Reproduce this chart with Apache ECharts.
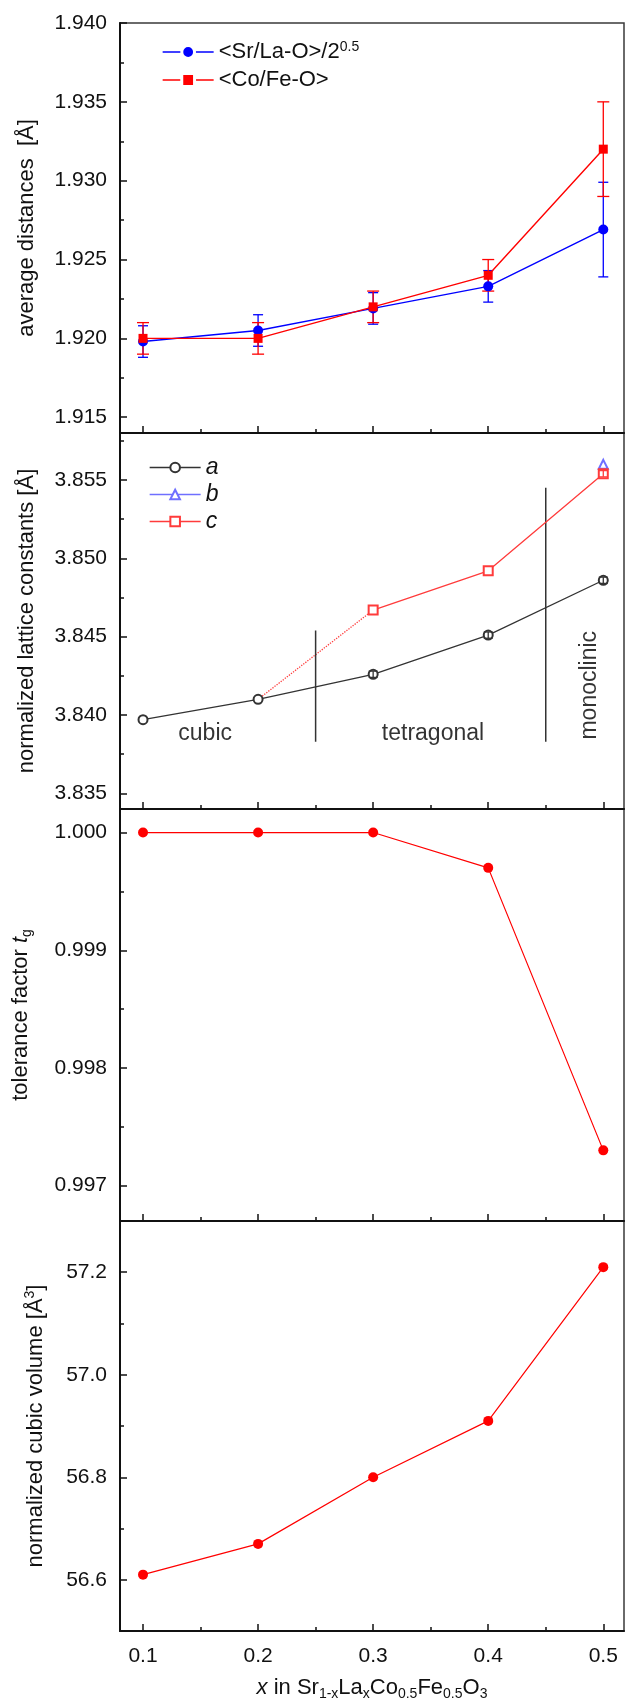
<!DOCTYPE html>
<html>
<head>
<meta charset="utf-8">
<title>Sr1-xLaxCo0.5Fe0.5O3 structure parameters</title>
<script src="https://cdn.jsdelivr.net/npm/echarts@6/dist/echarts.min.js"></script>
<style>
  html, body { margin: 0; padding: 0; background: #fff; }
  #chart { width: 625px; height: 1705px; }
</style>
</head>
<body>
<div id="chart"></div>
<script>
// La content x in Sr(1-x)La(x)Co0.5Fe0.5O3
const compositions = [0.1, 0.2, 0.3, 0.4, 0.5];

// Average distances [Å] with uncertainties
const distSrLaO    = [1.9198, 1.9205, 1.9219, 1.9233, 1.9269];
const distSrLaOErr = [0.001, 0.001, 0.001, 0.001, 0.003];
const distCoFeO    = [1.9200, 1.9200, 1.9220, 1.9240, 1.9320];
const distCoFeOErr = [0.001, 0.001, 0.001, 0.001, 0.003];

// Normalized lattice constants [Å]
const latticeA    = [3.8397, 3.8410, 3.8426, 3.8451, 3.8486];
const latticeAErr = [0, 0, 0.0002, 0.0002, 0.0002];
const latticeB    = [null, null, null, null, 3.8560];
const latticeC    = [null, 3.8410, 3.8467, 3.8492, 3.8554];
const latticeCErr = [0, 0, 0, 0, 0.0002];

// Phase boundaries and phase names (data units)
const phaseBoundaryX      = [0.25, 0.45];
const phaseBoundaryTop    = [3.8454, 3.8545];
const phaseBoundaryBottom = [3.8383, 3.8383];
const phaseNames  = ['cubic', 'tetragonal', 'monoclinic'];
const phaseLabelX = [0.154, 0.352, 0.488];
const phaseLabelY = [3.8388, 3.8388, 3.8419];

// Goldschmidt tolerance factor
const toleranceFactor = [1.0000, 1.0000, 1.0000, 0.9997, 0.9973];

// Normalized cubic volume [Å^3]
const cubicVolume = [56.61, 56.67, 56.80, 56.91, 57.21];

// Axis ranges and tick values
const xRange = [0.08, 0.518];
const xTicks = [0.1, 0.2, 0.3, 0.4, 0.5];
const xMinorTicks = [0.15, 0.25, 0.35, 0.45];
const yRanges = [[1.914, 1.940], [3.834, 3.858], [0.9967, 1.0002], [56.5, 57.3]];
const yTicks = [
  [1.915, 1.920, 1.925, 1.930, 1.935, 1.940],
  [3.835, 3.840, 3.845, 3.850, 3.855],
  [0.997, 0.998, 0.999, 1.000],
  [56.6, 56.8, 57.0, 57.2]
];
const yMinorTicks = [
  [1.9175, 1.9225, 1.9275, 1.9325, 1.9375],
  [3.8375, 3.8425, 3.8475, 3.8525, 3.8575],
  [0.9975, 0.9985, 0.9995],
  [56.7, 56.9, 57.1]
];
const yDecimals = [3, 3, 3, 1];

const FONT = "'Liberation Sans', Arial, Helvetica, sans-serif";
const AXIS_COLOR = '#111111';

const richText = {
  m:   { fontSize: 22, lineHeight: 26, fontFamily: FONT, color: AXIS_COLOR },
  i:   { fontSize: 22, lineHeight: 26, fontFamily: FONT, color: AXIS_COLOR, fontStyle: 'italic' },
  sub: { fontSize: 14, lineHeight: 12, fontFamily: FONT, color: AXIS_COLOR, verticalAlign: 'bottom' },
  sup: { fontSize: 14, lineHeight: 12, fontFamily: FONT, color: AXIS_COLOR, verticalAlign: 'top' }
};

const yTitles = [
  '{m|average distances  [Å]}',
  '{m|normalized lattice constants [Å]}',
  '{m|tolerance factor }{i|t}{sub|g}',
  '{m|normalized cubic volume [Å}{sup|3}{m|]}'
];
const yTitleGaps = [80, 80, 86, 71];
const xTitle = '{i|x}{m| in Sr}{sub|1-x}{m|La}{sub|x}{m|Co}{sub|0.5}{m|Fe}{sub|0.5}{m|O}{sub|3}';

const gridTops    = [23, 433, 809, 1221];
const gridHeights = [410, 376, 412, 410];

const grids = gridTops.map((top, i) => ({
  left: 120, right: 1, top: top, height: gridHeights[i],
  show: true, borderColor: '#3a3a3a', borderWidth: 1.5,
  backgroundColor: 'transparent',
  containLabel: false, outerBoundsMode: 'none'
}));

const xAxes = [];
const yAxes = [];
// Main axes (0..3) carry labels and major ticks
for (let i = 0; i < 4; i++) {
  const last = i === 3;
  xAxes.push({
    type: 'value', gridIndex: i, position: 'bottom',
    min: xRange[0], max: xRange[1],
    splitLine: { show: false },
    axisLine: { show: true, onZero: false, lineStyle: { color: AXIS_COLOR, width: 2 } },
    axisTick: { show: true, inside: true, length: 7, customValues: xTicks,
                lineStyle: { color: AXIS_COLOR, width: 1.5 } },
    axisLabel: { show: last, customValues: xTicks, margin: 15,
                 formatter: v => v.toFixed(1),
                 fontSize: 21, fontFamily: FONT, color: AXIS_COLOR },
    name: last ? xTitle : '',
    nameLocation: 'middle', nameGap: 44, nameMoveOverlap: false,
    nameTextStyle: { rich: richText, fontSize: 22, lineHeight: 26 }
  });
  yAxes.push({
    type: 'value', gridIndex: i, position: 'left',
    min: yRanges[i][0], max: yRanges[i][1],
    splitLine: { show: false },
    axisLine: { show: true, onZero: false, lineStyle: { color: AXIS_COLOR, width: 2 } },
    axisTick: { show: true, inside: true, length: 7, customValues: yTicks[i],
                lineStyle: { color: AXIS_COLOR, width: 1.5 } },
    axisLabel: { show: true, customValues: yTicks[i], margin: 13,
                 formatter: v => v.toFixed(yDecimals[i]),
                 fontSize: 21, fontFamily: FONT, color: AXIS_COLOR },
    name: yTitles[i],
    nameLocation: 'middle', nameRotate: 90, nameGap: yTitleGaps[i], nameMoveOverlap: false,
    nameTextStyle: { rich: richText, fontSize: 22, lineHeight: 26 }
  });
}
// Secondary axes (4..7) carry only the minor ticks
for (let i = 0; i < 4; i++) {
  xAxes.push({
    type: 'value', gridIndex: i, position: 'bottom',
    min: xRange[0], max: xRange[1],
    splitLine: { show: false },
    axisLine: { show: false, onZero: false },
    axisTick: { show: true, inside: true, length: 4, customValues: xMinorTicks,
                lineStyle: { color: AXIS_COLOR, width: 1.5 } },
    axisLabel: { show: false }
  });
  yAxes.push({
    type: 'value', gridIndex: i, position: 'left',
    min: yRanges[i][0], max: yRanges[i][1],
    splitLine: { show: false },
    axisLine: { show: false, onZero: false },
    axisTick: { show: true, inside: true, length: 4, customValues: yMinorTicks[i],
                lineStyle: { color: AXIS_COLOR, width: 1.5 } },
    axisLabel: { show: false }
  });
}

function pairs(values, from, to) {
  const out = [];
  for (let k = from; k <= to; k++) {
    if (values[k] != null) out.push([compositions[k], values[k]]);
  }
  return out;
}

function errorBars(panel, values, errs, color, cap, z) {
  const data = [];
  compositions.forEach((x, k) => {
    if (values[k] != null && errs[k] > 0) data.push([x, values[k] - errs[k], values[k] + errs[k]]);
  });
  return {
    type: 'custom', xAxisIndex: panel, yAxisIndex: panel, z: z, silent: true,
    data: data, encode: { x: 0, y: [1, 2] },
    renderItem(params, api) {
      const x = api.value(0);
      const lo = api.coord([x, api.value(1)]);
      const hi = api.coord([x, api.value(2)]);
      const h = cap / 2;
      const style = { stroke: color, lineWidth: 1.3 };
      return {
        type: 'group',
        children: [
          { type: 'line', shape: { x1: lo[0], y1: lo[1], x2: hi[0], y2: hi[1] }, style: style },
          { type: 'line', shape: { x1: lo[0] - h, y1: lo[1], x2: lo[0] + h, y2: lo[1] }, style: style },
          { type: 'line', shape: { x1: hi[0] - h, y1: hi[1], x2: hi[0] + h, y2: hi[1] }, style: style }
        ]
      };
    }
  };
}

const BLUE = '#0000ff';
const RED = '#ff0000';
const GREY = '#333333';
const LIGHT_BLUE = '#6f6fff';
const LIGHT_RED = '#ff3b3b';

const series = [
  // Panel 1: average distances
  errorBars(0, distSrLaO, distSrLaOErr, BLUE, 10, 2),
  errorBars(0, distCoFeO, distCoFeOErr, RED, 12, 2),
  {
    name: '<Sr/La-O>/2^0.5', type: 'line', xAxisIndex: 0, yAxisIndex: 0, z: 3,
    data: pairs(distSrLaO, 0, 4),
    symbol: 'circle', symbolSize: 10,
    lineStyle: { color: BLUE, width: 1.4 }, itemStyle: { color: BLUE }
  },
  {
    name: '<Co/Fe-O>', type: 'line', xAxisIndex: 0, yAxisIndex: 0, z: 4,
    data: pairs(distCoFeO, 0, 4),
    symbol: 'rect', symbolSize: 9,
    lineStyle: { color: RED, width: 1.4 }, itemStyle: { color: RED }
  },

  // Panel 2: lattice constants
  {
    type: 'line', xAxisIndex: 1, yAxisIndex: 1, z: 2, silent: true,
    data: pairs(latticeC, 1, 2), symbol: 'none',
    lineStyle: { color: LIGHT_RED, width: 1.3, type: 'dotted' }
  },
  {
    name: 'a', type: 'line', xAxisIndex: 1, yAxisIndex: 1, z: 3,
    data: pairs(latticeA, 0, 4),
    symbol: 'emptyCircle', symbolSize: 9,
    lineStyle: { color: GREY, width: 1.3 },
    itemStyle: { color: GREY, borderWidth: 1.2 }
  },
  {
    name: 'b', type: 'line', xAxisIndex: 1, yAxisIndex: 1, z: 3,
    data: pairs(latticeB, 0, 4),
    symbol: 'emptyTriangle', symbolSize: 9,
    lineStyle: { color: LIGHT_BLUE, width: 1.3 },
    itemStyle: { color: LIGHT_BLUE, borderWidth: 1.2 }
  },
  {
    name: 'c', type: 'line', xAxisIndex: 1, yAxisIndex: 1, z: 3,
    data: pairs(latticeC, 2, 4),
    symbol: 'emptyRect', symbolSize: 9,
    lineStyle: { color: LIGHT_RED, width: 1.3 },
    itemStyle: { color: LIGHT_RED, borderWidth: 1.2 }
  },
  errorBars(1, latticeA, latticeAErr, GREY, 9, 4),
  errorBars(1, latticeC, latticeCErr, LIGHT_RED, 9, 4)
];

phaseBoundaryX.forEach((x, k) => {
  series.push({
    type: 'line', xAxisIndex: 1, yAxisIndex: 1, z: 2, silent: true,
    data: [[x, phaseBoundaryTop[k]], [x, phaseBoundaryBottom[k]]],
    symbol: 'none', lineStyle: { color: GREY, width: 1.5 }
  });
});

series.push({
  type: 'scatter', xAxisIndex: 1, yAxisIndex: 1, z: 5, silent: true,
  symbolSize: 0,
  data: phaseNames.map((name, k) => ({
    name: name,
    value: [phaseLabelX[k], phaseLabelY[k]],
    label: { rotate: name === 'monoclinic' ? 90 : 0 }
  })),
  label: {
    show: true, position: 'inside', formatter: p => p.name,
    fontSize: 23, fontFamily: FONT, color: '#000000'
  }
});

// Panel 3: tolerance factor
series.push({
  type: 'line', xAxisIndex: 2, yAxisIndex: 2, z: 3,
  data: pairs(toleranceFactor, 0, 4),
  symbol: 'circle', symbolSize: 10,
  lineStyle: { color: RED, width: 1.2 }, itemStyle: { color: RED }
});

// Panel 4: cubic volume
series.push({
  type: 'line', xAxisIndex: 3, yAxisIndex: 3, z: 3,
  data: pairs(cubicVolume, 0, 4),
  symbol: 'circle', symbolSize: 10,
  lineStyle: { color: RED, width: 1.2 }, itemStyle: { color: RED }
});

const legendRich = {
  m:   { fontSize: 22, lineHeight: 24, fontFamily: FONT, color: AXIS_COLOR },
  i:   { fontSize: 23, lineHeight: 22, fontFamily: FONT, color: AXIS_COLOR, fontStyle: 'italic' },
  sup: { fontSize: 14, lineHeight: 11, fontFamily: FONT, color: AXIS_COLOR, verticalAlign: 'top' }
};

const option = {
  animation: false,
  backgroundColor: '#ffffff',
  grid: grids,
  xAxis: xAxes,
  yAxis: yAxes,
  legend: [
    {
      orient: 'vertical', left: 162, top: 40, padding: 0,
      itemWidth: 51, itemHeight: 16, itemGap: 4,
      selectedMode: false,
      itemStyle: { borderColor: '#ffffff', borderWidth: 3 },
      lineStyle: { width: 1.3 },
      data: ['<Sr/La-O>/2^0.5', '<Co/Fe-O>'],
      formatter: name => name === '<Sr/La-O>/2^0.5'
        ? '{m|<Sr/La-O>/2}{sup|0.5}'
        : '{m|<Co/Fe-O>}',
      textStyle: { fontSize: 22, lineHeight: 24, fontFamily: FONT, color: AXIS_COLOR, rich: legendRich }
    },
    {
      orient: 'vertical', left: 149, top: 456, padding: 0,
      itemWidth: 51, itemHeight: 12, itemGap: 4,
      selectedMode: false,
      lineStyle: { width: 1.3 },
      data: ['a', 'b', 'c'],
      formatter: name => '{i|' + name + '}',
      textStyle: { fontSize: 23, lineHeight: 22, fontFamily: FONT, color: AXIS_COLOR, rich: legendRich }
    }
  ],
  series: series
};

const chart = echarts.init(document.getElementById('chart'), null, { renderer: 'canvas' });
chart.setOption(option);
</script>
</body>
</html>
